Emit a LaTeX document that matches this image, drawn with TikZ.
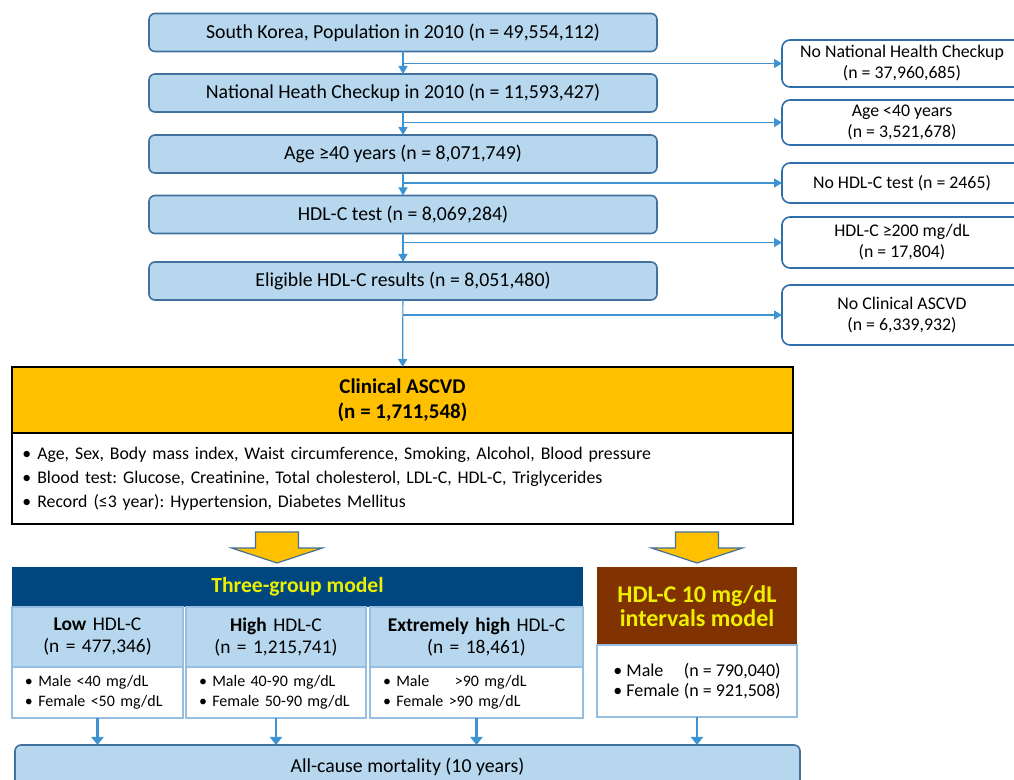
\documentclass[tikz,border=0pt]{standalone}
\usepackage{fontspec}
\setmainfont{Carlito}
\usetikzlibrary{arrows.meta}
\frenchspacing
\definecolor{boxfill}{RGB}{182,215,238}
\definecolor{boxline}{RGB}{65,113,156}
\definecolor{exclline}{RGB}{46,110,170}
\definecolor{flowblue}{RGB}{62,148,210}
\definecolor{ascvd}{RGB}{255,192,0}
\definecolor{navy}{RGB}{0,70,127}
\definecolor{rust}{RGB}{128,50,0}
\definecolor{yelltext}{RGB}{236,240,0}
\definecolor{colline}{RGB}{150,190,225}
\newcommand{\bigdown}[2]{\draw[blockarrow] ({#1-21.5},#2) -- ++(43,0) -- ++(0,16) -- ++(24,0) -- ({#1},{#2+31}) -- ({#1-45.5},{#2+16}) -- ++(24,0) -- cycle;}
\tikzset{
	stage/.style={draw=boxline,fill=boxfill,line width=0.8pt,rounded corners=3pt,minimum width=254pt,minimum height=19pt,inner sep=0pt,outer sep=0pt,font=\fontsize{9.9}{12}\selectfont},
	excl/.style={draw=exclline,fill=white,line width=0.8pt,rounded corners=4pt,minimum width=120pt,inner sep=0pt,outer sep=0pt,align=center,font=\fontsize{8.9}{10.5}\selectfont},
	flow/.style={color=flowblue,line width=0.6pt,-{Triangle[width=4.5pt,length=4pt]}},
	bigflow/.style={color=flowblue,line width=1.3pt,-{Triangle[width=6pt,length=4pt]}},
	blockarrow/.style={fill=ascvd,draw=boxline,line width=0.6pt},
	ascvdhead/.style={draw=black,fill=ascvd,line width=0.8pt,minimum width=390.5pt,minimum height=33pt,inner sep=0pt,outer sep=0pt,align=center,font=\fontsize{10.5}{12.5}\selectfont\bfseries},
	ascvdbody/.style={draw=black,fill=white,line width=0.8pt,text width=380pt,inner xsep=5.25pt,inner ysep=0pt,minimum height=45.5pt,outer sep=0pt,align=left,font=\fontsize{8.9}{12}\selectfont},
	threehead/.style={fill=navy,minimum width=285.5pt,minimum height=20pt,inner sep=0pt,outer sep=0pt,text=yelltext,font=\fontsize{10.8}{13}\selectfont\bfseries},
	hdlhead/.style={fill=rust,minimum width=100pt,minimum height=39pt,inner sep=0pt,outer sep=0pt,align=center,text=yelltext,font=\fontsize{12}{12}\selectfont\bfseries},
	grouphead/.style={draw=colline,fill=boxfill,line width=0.6pt,text width=#1,inner xsep=6.5pt,inner ysep=0pt,minimum height=30pt,outer sep=0pt,align=center,font=\fontsize{9.7}{11}\selectfont},
	groupbody/.style={draw=colline,fill=white,line width=0.6pt,text width=#1,inner xsep=6.5pt,inner ysep=0pt,minimum height=25.5pt,outer sep=0pt,align=left,font=\fontsize{8}{10}\selectfont}
}
\begin{document}
\begin{tikzpicture}[x=0.5pt,y=-0.5pt]
	\useasboundingbox (0,0) rectangle (1014,780);
	\clip (0,0) rectangle (1014,780);
	\node[stage] (pop) at (403,32.5) {South Korea, Population in 2010 (n = 49,554,112)};
	\node[stage] (chk) at (403,93) {National Heath Checkup in 2010 (n = 11,593,427)};
	\node[stage] (age) at (403,154) {Age ≥40 years (n = 8,071,749)};
	\node[stage] (hdl) at (403,214.5) {HDL-C test (n = 8,069,284)};
	\node[stage] (elig) at (403,281) {Eligible HDL-C results (n = 8,051,480)};
	\node[excl,minimum height=23.5pt] (nochk) at (902,63.5) {No National Health Checkup\\(n = 37,960,685)};
	\node[excl,minimum height=22.5pt] (young) at (902,122.5) {Age <40 years\\(n = 3,521,678)};
	\node[excl,minimum height=20pt] (notest) at (902,183) {No HDL-C test (n = 2465)};
	\node[excl,minimum height=25.5pt] (toohigh) at (902,242.5) {HDL-C ≥200 mg/dL\\(n = 17,804)};
	\node[excl,minimum height=30pt] (noascvd) at (902,315) {No Clinical ASCVD\\(n = 6,339,932)};
	\node[ascvdhead] (ascvd) at (402.5,400) {Clinical ASCVD\\(n = 1,711,548)};
	\node[ascvdbody,anchor=north] (covar) at (ascvd.south) {• Age, Sex, Body mass index, Waist circumference, Smoking, Alcohol, Blood pressure\\• Blood test: Glucose, Creatinine, Total cholesterol, LDL-C, HDL-C, Triglycerides\\• Record (≤3 year): Hypertension, Diabetes Mellitus};
	\path[flow]
	(pop) edge (chk)
	(chk) edge (age)
	(age) edge (hdl)
	(hdl) edge (elig)
	(elig) edge (ascvd)
	(pop.south |- nochk.west) edge (nochk.west)
	(chk.south |- young.west) edge (young.west)
	(age.south |- notest.west) edge (notest.west)
	(hdl.south |- toohigh.west) edge (toohigh.west)
	(elig.south |- noascvd.west) edge (noascvd.west);
	\bigdown{277}{532}
	\bigdown{697}{532}
	\node[threehead] (three) at (297.5,587) {Three-group model};
	\node[grouphead=72.5pt] (low) at (97.5,637) {\textbf{Low} HDL-C\\(n = 477,346)};
	\node[grouphead=77pt] (high) at (276,637) {\textbf{High} HDL-C\\(n = 1,215,741)};
	\node[grouphead=93.5pt] (xhigh) at (476.5,637) {\textbf{Extremely high} HDL-C\\(n = 18,461)};
	\node[groupbody=72.5pt] (lowcut) at (97.5,692.5) {• Male <40 mg/dL\\• Female <50 mg/dL};
	\node[groupbody=77pt] (highcut) at (276,692.5) {• Male 40-90 mg/dL\\• Female 50-90 mg/dL};
	\node[groupbody=93.5pt] (xhighcut) at (476.5,692.5) {• Male\hspace{1.6em}>90 mg/dL\\• Female >90 mg/dL};
	\node[hdlhead] (interval) at (697,606) {HDL-C 10 mg/dL\\intervals model};
	\node[groupbody={},minimum width=100pt,minimum height=36pt,font=\fontsize{9}{10}\selectfont] (sexes) at (697,681) {• \makebox[3.2em][l]{Male}(n = 790,040)\\• \makebox[3.2em][l]{Female}(n = 921,508)};
	\node[stage,minimum width=392.5pt,minimum height=22pt] (death) at (407.5,767) {All-cause mortality (10 years)};
	\path[bigflow]
	(lowcut.south) edge (lowcut.south |- death.north)
	(highcut.south) edge (highcut.south |- death.north)
	(xhighcut.south) edge (xhighcut.south |- death.north)
	(sexes.south) edge (sexes.south |- death.north);
\end{tikzpicture}
\end{document}
